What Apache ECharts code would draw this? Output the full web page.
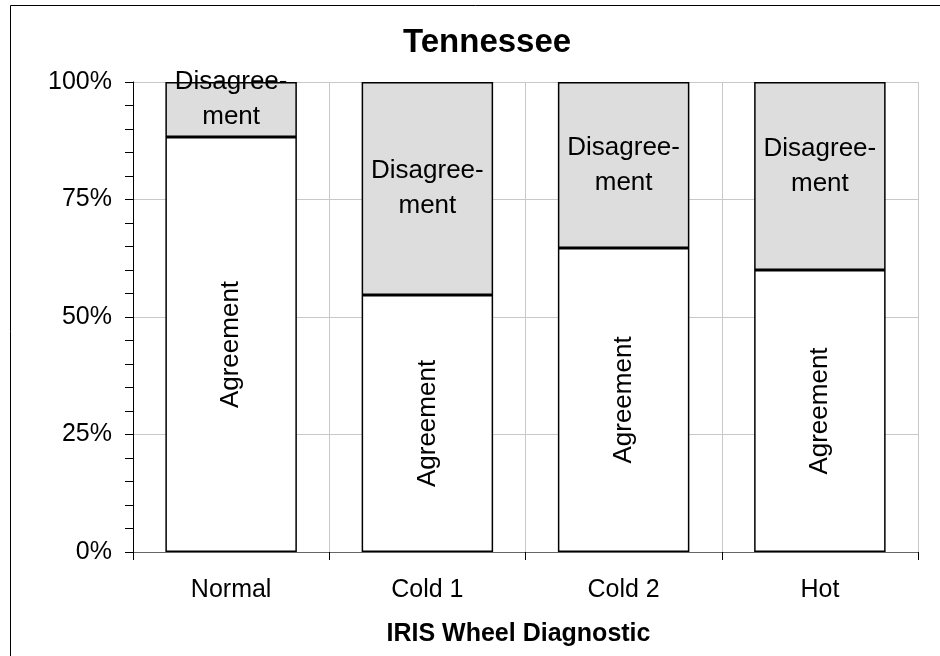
<!DOCTYPE html>
<html>
<head>
<meta charset="utf-8">
<script src="https://cdn.jsdelivr.net/npm/echarts@6/dist/echarts.min.js"></script>
<style>
  html, body { margin: 0; padding: 0; background: #fff; }
  #chart { width: 940px; height: 656px; }
</style>
</head>
<body>
<div id="chart"></div>
<script>
// IRIS wheel diagnostic, Tennessee
var categories = ['Normal', 'Cold 1', 'Cold 2', 'Hot'];
var agreement = [88.3, 54.7, 64.7, 60.0];
var disagreement = agreement.map(function (v) { return +(100 - v).toFixed(1); });
var yTicks = [0, 25, 50, 75, 100];

var font = 'Liberation Sans, Arial, sans-serif';
// Excel placed a couple of the grey labels a bit higher than centre
var labelNudge = [-10, 0, 0, -10];

var myChart = echarts.init(document.getElementById('chart'));

var option = {
  animation: false,
  backgroundColor: '#fff',
  textStyle: { fontFamily: font, color: '#000' },
  title: {
    text: 'Tennessee',
    left: 398,
    top: 21,
    textStyle: { fontFamily: font, fontSize: 33, fontWeight: 'bold', color: '#000' }
  },
  graphic: [{
    type: 'rect',
    shape: { x: 10.5, y: 5.5, width: 1000, height: 1000 },
    style: { fill: 'none', stroke: '#000', lineWidth: 1 },
    silent: true
  }],
  grid: { left: 133, right: 22, top: 82, bottom: 104 },
  xAxis: {
    type: 'category',
    data: categories,
    name: 'IRIS Wheel Diagnostic',
    nameLocation: 'middle',
    nameGap: 70,
    nameTextStyle: { fontFamily: font, fontSize: 25, fontWeight: 'bold', color: '#000', padding: [0, 14, 0, 0] },
    axisLine: { lineStyle: { color: '#666', width: 1 } },
    axisTick: { show: true, alignWithLabel: false, length: 8, lineStyle: { color: '#000' } },
    axisLabel: { fontFamily: font, fontSize: 25, color: '#000', margin: 26 },
    splitLine: { show: true, lineStyle: { color: '#c8c8c8' } }
  },
  yAxis: {
    type: 'value',
    min: yTicks[0],
    max: yTicks[yTicks.length - 1],
    interval: 25,
    axisLine: { show: true, lineStyle: { color: '#000' } },
    axisTick: { show: true, inside: false, length: 8, lineStyle: { color: '#000' } },
    minorTick: { show: true, splitNumber: 5, length: 8, lineStyle: { color: '#000' } },
    axisLabel: { fontFamily: font, fontSize: 25, color: '#000', margin: 21, formatter: '{value}%' },
    splitLine: { show: true, lineStyle: { color: '#c8c8c8' } }
  },
  series: [{
    name: 'Agreement',
    type: 'bar',
    stack: 'total',
    data: agreement,
    barWidth: '67%',
    itemStyle: { color: '#fff', borderColor: '#000', borderWidth: 1.5 },
    label: {
      show: true,
      position: 'inside',
      rotate: 90,
      formatter: 'Agreement',
      fontFamily: font,
      fontSize: 26,
      color: '#000'
    }
  }, {
    name: 'Disagreement',
    type: 'bar',
    stack: 'total',
    data: disagreement.map(function (v, i) {
      return { value: v, label: { offset: [0, labelNudge[i]] } };
    }),
    itemStyle: { color: '#dddddd', borderColor: '#000', borderWidth: 1.5 },
    label: {
      show: true,
      position: 'inside',
      formatter: 'Disagree-\nment',
      fontFamily: font,
      fontSize: 26,
      lineHeight: 35,
      color: '#000'
    }
  }]
};

myChart.setOption(option);
window.onresize = myChart.resize;
</script>
</body>
</html>
